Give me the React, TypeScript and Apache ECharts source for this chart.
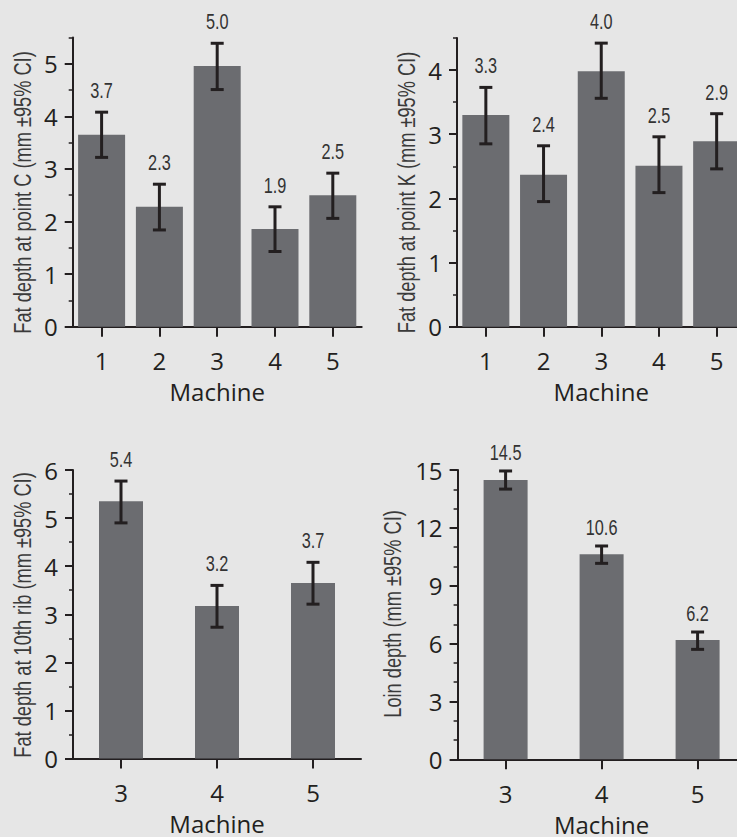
import React, { useEffect, useRef } from "react";
import * as echarts from "echarts";

// ---- data ----
const machinesAll = ["1", "2", "3", "4", "5"];
const machinesSub = ["3", "4", "5"];

const pointCMean = [3.65, 2.28, 4.96, 1.86, 2.5];
const pointCLow = [3.22, 1.84, 4.51, 1.43, 2.06];
const pointCHigh = [4.08, 2.71, 5.39, 2.28, 2.92];
const pointCLabels = ["3.7", "2.3", "5.0", "1.9", "2.5"];
const pointCTicks = [0, 1, 2, 3, 4, 5];

const pointKMean = [3.3, 2.37, 3.98, 2.51, 2.89];
const pointKLow = [2.85, 1.95, 3.56, 2.09, 2.46];
const pointKHigh = [3.73, 2.82, 4.42, 2.96, 3.32];
const pointKLabels = ["3.3", "2.4", "4.0", "2.5", "2.9"];
const pointKTicks = [0, 1, 2, 3, 4];

const ribMean = [5.35, 3.17, 3.65];
const ribLow = [4.9, 2.73, 3.21];
const ribHigh = [5.77, 3.6, 4.08];
const ribLabels = ["5.4", "3.2", "3.7"];
const ribTicks = [0, 1, 2, 3, 4, 5, 6];

const loinMean = [14.48, 10.63, 6.18];
const loinLow = [14.01, 10.16, 5.7];
const loinHigh = [14.95, 11.06, 6.6];
const loinLabels = ["14.5", "10.6", "6.2"];
const loinTicks = [0, 3, 6, 9, 12, 15];

const BG = "#e6e6e6";
const BAR = "#6b6c70";
const INK = "#231f20";
const CONDENSED = "'Liberation Sans', Arial, sans-serif";
const SANS = "'Open Sans', 'Noto Sans', sans-serif";

type Panel = {
  cats: string[];
  mean: number[];
  low: number[];
  high: number[];
  labels: string[];
  ticks: number[];
  max: number;
  minorStep: number;
  title: string;
  grid: { left: number; top: number; width: number; height: number };
  barWidth: number;
  labelOffset: number;
  titleX: number;
  titleY: number;
};

const panels: Panel[] = [
  {
    cats: machinesAll, mean: pointCMean, low: pointCLow, high: pointCHigh, labels: pointCLabels,
    ticks: pointCTicks, max: 5.5, minorStep: 0.5, title: "Fat depth at point C (mm ±95% CI)",
    grid: { left: 72.7, top: 37.5, width: 289, height: 289.2 }, barWidth: 47, labelOffset: 22,
    titleX: 23, titleY: 192.5,
  },
  {
    cats: machinesAll, mean: pointKMean, low: pointKLow, high: pointKHigh, labels: pointKLabels,
    ticks: pointKTicks, max: 4.5, minorStep: 0.5, title: "Fat depth at point K (mm ±95% CI)",
    grid: { left: 457, top: 38, width: 288.5, height: 288.7 }, barWidth: 47, labelOffset: 22,
    titleX: 407.5, titleY: 192.5,
  },
  {
    cats: machinesSub, mean: ribMean, low: ribLow, high: ribHigh, labels: ribLabels,
    ticks: ribTicks, max: 6, minorStep: 0.5, title: "Fat depth at 10th rib (mm ±95% CI)",
    grid: { left: 73, top: 470, width: 288, height: 288.5 }, barWidth: 44, labelOffset: 22.5,
    titleX: 23.3, titleY: 615,
  },
  {
    cats: machinesSub, mean: loinMean, low: loinLow, high: loinHigh, labels: loinLabels,
    ticks: loinTicks, max: 15, minorStep: 1, title: "Loin depth (mm ±95% CI)",
    grid: { left: 457.6, top: 470, width: 288, height: 289.3 }, barWidth: 44, labelOffset: 19,
    titleX: 393, titleY: 614,
  },
];

function buildOption() {
  const grid: any[] = [];
  const xAxis: any[] = [];
  const yAxis: any[] = [];
  const series: any[] = [];
  const graphic: any[] = [];

  panels.forEach((p, g) => {
    grid.push({ ...p.grid, containLabel: false, outerBoundsMode: "none" });
    xAxis.push({
      type: "category",
      gridIndex: g,
      data: p.cats,
      boundaryGap: true,
      name: "Machine",
      nameLocation: "middle",
      nameGap: 53,
      nameTextStyle: { fontFamily: SANS, fontSize: 24, color: INK, lineHeight: 24 },
      axisLine: { show: true, lineStyle: { color: INK, width: 2 } },
      axisTick: { show: true, alignWithLabel: true, length: 10, lineStyle: { color: INK, width: 2 } },
      axisLabel: { fontFamily: SANS, fontSize: 24, color: INK, margin: 22 },
      splitLine: { show: false },
    });
    const step = p.ticks[1] - p.ticks[0];
    // major axis
    yAxis.push({
      type: "value",
      gridIndex: g,
      position: "left",
      min: 0,
      max: p.max,
      interval: step,
      axisLine: { show: true, onZero: false, lineStyle: { color: INK, width: 2 } },
      axisTick: { show: true, length: 8, lineStyle: { color: INK, width: 2 }, customValues: p.ticks },
      axisLabel: { fontFamily: SANS, fontSize: 24, color: INK, margin: 15, customValues: p.ticks },
      splitLine: { show: false },
    });
    // minor tick axis
    yAxis.push({
      type: "value",
      gridIndex: g,
      position: "left",
      min: 0,
      max: p.max,
      interval: p.minorStep,
      axisLine: { show: false },
      axisTick: { show: true, length: 4, lineStyle: { color: INK, width: 1.5 } },
      axisLabel: { show: false },
      splitLine: { show: false },
    });

    series.push({
      type: "bar",
      xAxisIndex: g,
      yAxisIndex: g * 2,
      data: p.mean,
      barWidth: p.barWidth,
      itemStyle: { color: BAR },
      z: 2,
    });
    const labels = p.labels;
    const offset = p.labelOffset;
    series.push({
      type: "custom",
      xAxisIndex: g,
      yAxisIndex: g * 2,
      data: p.cats.map((_, i) => [i, p.low[i], p.high[i]]),
      encode: { x: 0, y: [1, 2] },
      z: 5,
      clip: false,
      renderItem: (params: any, api: any) => {
        const x = api.value(0);
        const top = api.coord([x, api.value(2)]);
        const bot = api.coord([x, api.value(1)]);
        const cap = 6.5;
        const st = { stroke: INK, lineWidth: 3 };
        return {
          type: "group",
          children: [
            { type: "line", shape: { x1: top[0], y1: top[1], x2: bot[0], y2: bot[1] }, style: st },
            { type: "line", shape: { x1: top[0] - cap, y1: top[1], x2: top[0] + cap, y2: top[1] }, style: st },
            { type: "line", shape: { x1: bot[0] - cap, y1: bot[1], x2: bot[0] + cap, y2: bot[1] }, style: st },
            {
              type: "text",
              x: top[0],
              y: top[1] - offset,
              scaleX: 0.74,
              style: {
                text: labels[params.dataIndex],
                align: "center",
                verticalAlign: "middle",
                fontFamily: CONDENSED,
                fontSize: 22,
                fill: "#333333",
              },
            },
          ],
        };
      },
    });

    // y-axis title (condensed look via horizontal scaling)
    graphic.push({
      type: "text",
      x: p.titleX,
      y: p.titleY,
      rotation: Math.PI / 2,
      scaleX: 0.76,
      style: {
        text: p.title,
        align: "center",
        verticalAlign: "middle",
        fontFamily: CONDENSED,
        fontSize: 24,
        fill: "#3a3a3a",
      },
    });
  });

  return {
    animation: false,
    backgroundColor: BG,
    grid,
    xAxis,
    yAxis,
    series,
    graphic,
  };
}

export default function App() {
  const ref = useRef<HTMLDivElement>(null);
  useEffect(() => {
    if (!ref.current) return;
    const chart = echarts.init(ref.current, undefined, { renderer: "svg" });
    chart.setOption(buildOption() as any);
    return () => chart.dispose();
  }, []);
  return (
    <div
      ref={ref}
      style={{ position: "absolute", left: 0, top: 0, width: 737, height: 837, background: BG }}
    />
  );
}
